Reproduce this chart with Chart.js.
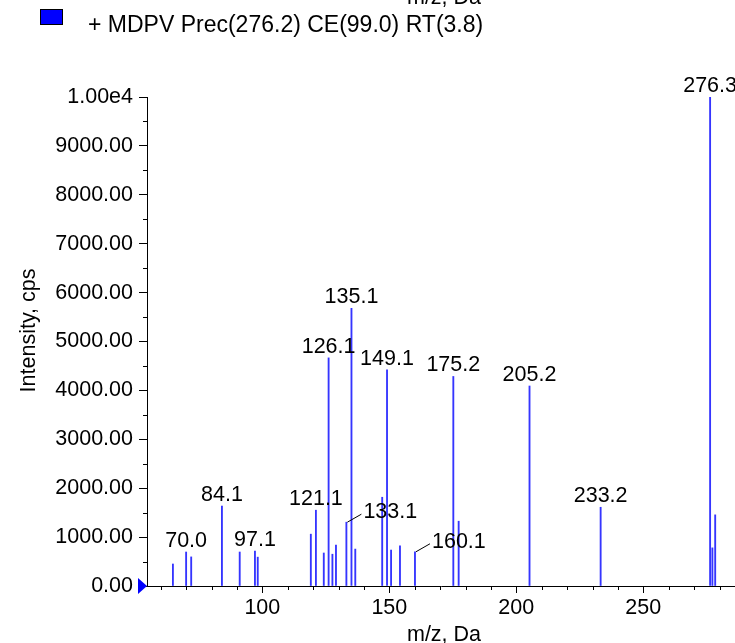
<!DOCTYPE html>
<html>
<head>
<meta charset="utf-8">
<script src="https://cdn.jsdelivr.net/npm/chart.js@4"></script>
<style>
  html, body { margin: 0; padding: 0; background: #fff; }
  #c { display: block; }
</style>
</head>
<body>
<canvas id="c" width="735" height="643"></canvas>
<script>
// ---- data ----
const seriesLabel = '+ MDPV Prec(276.2) CE(99.0) RT(3.8)';
const mz = [64.8, 70.0, 72.0, 84.1, 91.1, 97.1, 98.2, 119.1, 121.1, 124.2, 126.1, 127.6, 129.0,
            133.1, 135.1, 136.6, 147.2, 149.1, 150.7, 154.2, 160.1, 175.2, 177.3, 205.2, 233.2,
            276.3, 277.2, 278.3];
const intensity = [450, 695, 595, 1635, 695, 715, 590, 1060, 1550, 675, 4665, 650, 835,
                   1305, 5680, 755, 1815, 4420, 735, 820, 700, 4285, 1325, 4090, 1610,
                   10000, 780, 1455];
const peakLabel = ['', '70.0', '', '84.1', '', '97.1', '', '', '121.1', '', '126.1', '', '',
                   '133.1', '135.1', '', '', '149.1', '', '', '160.1', '175.2', '', '205.2', '233.2',
                   '276.3', '', ''];
const xTicks = [100, 150, 200, 250];
const xMinorTicks = [60, 70, 80, 90, 110, 120, 130, 140, 160, 170, 180, 190, 210, 220, 230, 240, 260, 270, 280];
const yTicks = [0, 1000, 2000, 3000, 4000, 5000, 6000, 7000, 8000, 9000, 10000];
const yMinorTicks = [500, 1500, 2500, 3500, 4500, 5500, 6500, 7500, 8500, 9500];
const xTitle = 'm/z, Da';
const yTitle = 'Intensity, cps';

// ---- styles ----
const FONT = "'Liberation Sans', Arial, sans-serif";
const BLUE = '#0000ff';
const BAR = '#3535ff';

function fmtY(v) {
  if (v >= 10000) return '1.00e4';
  return v.toFixed(2);
}

const decorPlugin = {
  id: 'decor',
  afterDraw(chart, args, opts) {
    const ctx = chart.ctx;
    const xs = chart.scales.x, ys = chart.scales.y;
    const ca = chart.chartArea;
    ctx.save();
    // minor ticks
    ctx.strokeStyle = '#000';
    ctx.lineWidth = 1;
    ctx.beginPath();
    xMinorTicks.forEach(v => {
      const px = Math.round(xs.getPixelForValue(v)) + 0.5;
      ctx.moveTo(px, ca.bottom);
      ctx.lineTo(px, ca.bottom + 4);
    });
    yMinorTicks.forEach(v => {
      const py = Math.round(ys.getPixelForValue(v)) + 0.5;
      ctx.moveTo(ca.left, py);
      ctx.lineTo(ca.left - 4, py);
    });
    ctx.stroke();

    // origin marker triangle
    const ox = xs.getPixelForValue(xs.min), oy = ys.getPixelForValue(0);
    ctx.fillStyle = BLUE;
    ctx.beginPath();
    ctx.moveTo(ox - 9, oy - 8);
    ctx.lineTo(ox, oy);
    ctx.lineTo(ox - 9, oy + 8);
    ctx.closePath();
    ctx.fill();

    // peak labels
    ctx.fillStyle = '#000';
    ctx.font = '21.5px ' + FONT;
    const meta = chart.getDatasetMeta(0);
    meta.data.forEach((bar, i) => {
      const t = peakLabel[i];
      if (!t) return;
      const bx = bar.x, by = bar.y;
      if (opts.leader.includes(t)) {
        ctx.strokeStyle = '#000';
        ctx.lineWidth = 1;
        ctx.beginPath();
        ctx.moveTo(bx + 1, by);
        ctx.lineTo(bx + 15, by - 8);
        ctx.stroke();
        ctx.textAlign = 'left';
        ctx.textBaseline = 'alphabetic';
        ctx.fillText(t, bx + 17, by - 4);
      } else {
        ctx.textAlign = 'center';
        ctx.textBaseline = 'alphabetic';
        ctx.fillText(t, bx, by - 5);
      }
    });

    // axis titles
    ctx.font = '21.5px ' + FONT;
    ctx.textAlign = 'center';
    ctx.textBaseline = 'alphabetic';
    ctx.fillText(xTitle, (ca.left + ca.right) / 2 + 3, 641);
    // clipped title of the panel above
    ctx.fillText(xTitle, (ca.left + ca.right) / 2 + 3, 4);
    ctx.save();
    ctx.translate(29, (ca.top + ca.bottom) / 2 - 11);
    ctx.rotate(-Math.PI / 2);
    ctx.textBaseline = 'middle';
    ctx.fillText(yTitle, 0, 0);
    ctx.restore();

    // legend
    const ds = chart.data.datasets[0];
    ctx.fillStyle = BLUE;
    ctx.fillRect(40, 9, 23, 16);
    ctx.strokeStyle = '#000';
    ctx.lineWidth = 1;
    ctx.strokeRect(40.5, 9.5, 22, 15);
    ctx.fillStyle = '#000';
    ctx.textAlign = 'left';
    ctx.textBaseline = 'alphabetic';
    ctx.font = '23px ' + FONT;
    ctx.fillText(ds.label, 88, 32);
    ctx.restore();
  }
};

new Chart(document.getElementById('c'), {
  type: 'bar',
  data: {
    datasets: [{
      label: seriesLabel,
      data: mz.map((m, i) => ({ x: m, y: intensity[i] })),
      backgroundColor: BAR,
      borderWidth: 0,
      barThickness: 1.2,
      grouped: false
    }]
  },
  options: {
    responsive: false,
    animation: false,
    devicePixelRatio: 1,
    layout: { padding: { top: 97, right: 0, left: 0, bottom: 0 } },
    plugins: {
      legend: { display: false },
      tooltip: { enabled: false },
      decor: { leader: ['133.1', '160.1'] }
    },
    scales: {
      x: {
        type: 'linear',
        min: 54.6,
        max: 286.1,
        offset: false,
        afterBuildTicks: s => { s.ticks = xTicks.map(v => ({ value: v })); },
        afterFit: s => { s.height = 57; },
        grid: { offset: false, drawOnChartArea: false, drawTicks: true, tickLength: 7, color: '#000', tickColor: '#000' },
        border: { display: true, color: '#000', width: 1 },
        ticks: { font: { family: FONT, size: 21.5 }, color: '#000', padding: 2, maxRotation: 0, autoSkip: false }
      },
      y: {
        type: 'linear',
        min: 0,
        max: 10000,
        afterBuildTicks: s => { s.ticks = yTicks.map(v => ({ value: v })); },
        afterFit: s => { s.width = 147; },
        grid: { drawOnChartArea: false, drawTicks: true, tickLength: 8, color: '#000', tickColor: '#000' },
        border: { display: true, color: '#000', width: 1 },
        ticks: { font: { family: FONT, size: 21.5 }, color: '#000', padding: 6, autoSkip: false, callback: v => fmtY(v) }
      }
    }
  },
  plugins: [decorPlugin]
});
</script>
</body>
</html>
